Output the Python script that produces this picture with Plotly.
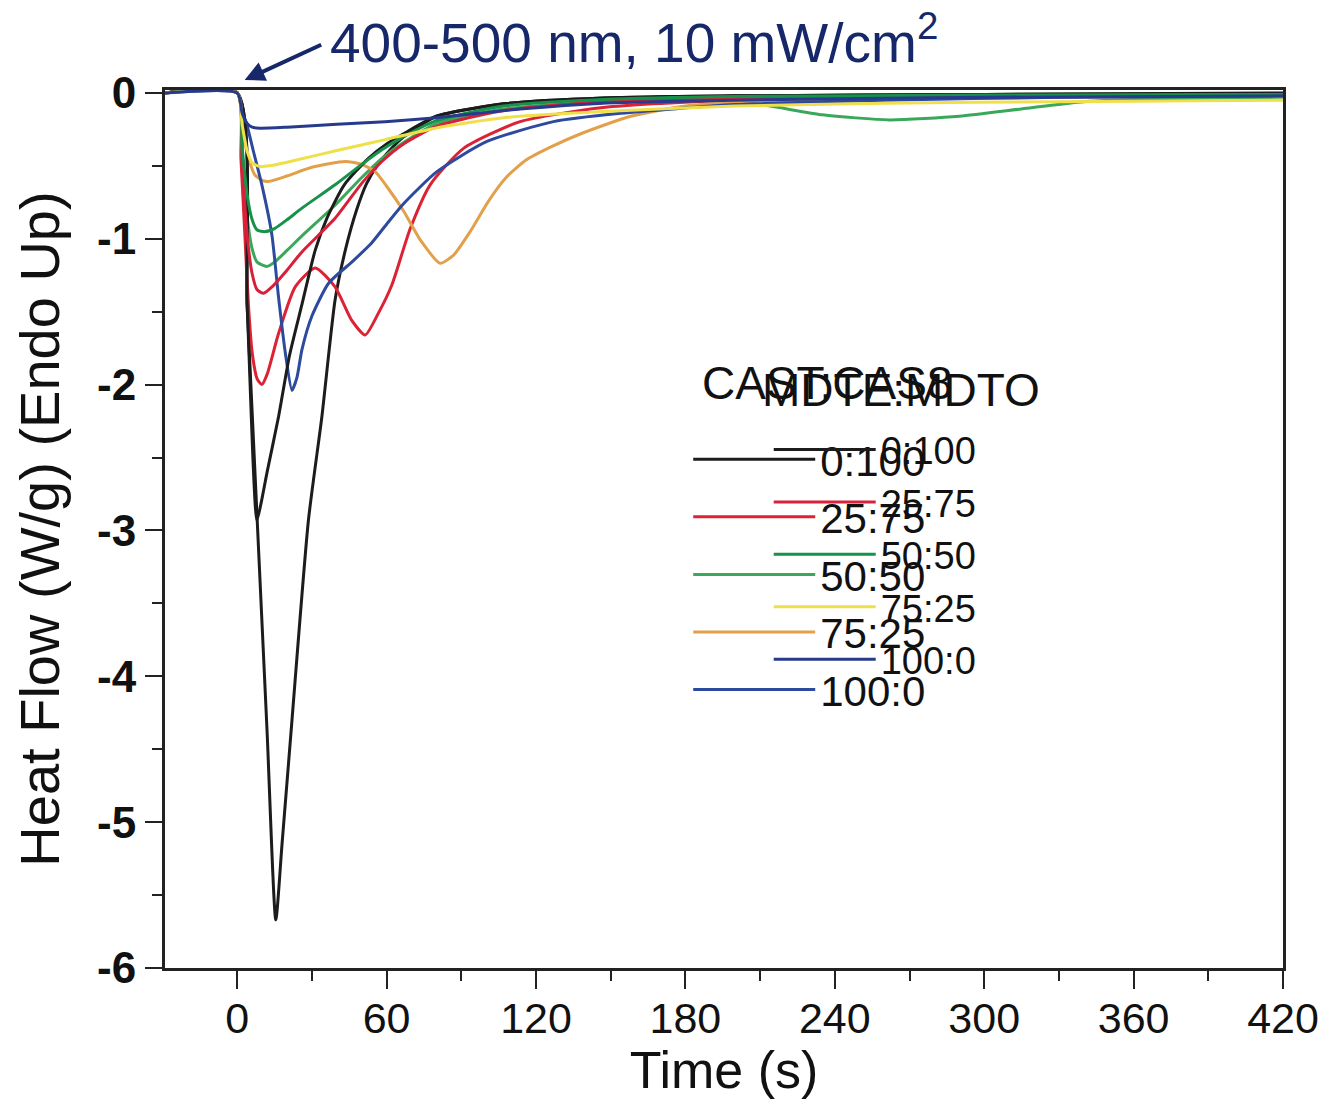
import plotly.graph_objects as go

# ---------------- data ----------------
# Chart A : CAST:CAS8 ratios
t_a_0_100 = [-29, 0, 4, 8, 12, 15.5, 18, 22, 28.6, 34, 39.3, 43.4, 48, 52, 56.6, 62, 67, 80, 107, 147, 200, 300, 420]
hf_a_0_100 = [0, 0, -1.46, -2.92, -4.38, -5.67, -5.15, -4.3, -2.93, -2.22, -1.42, -1.08, -0.8, -0.62, -0.49, -0.38, -0.3, -0.16, -0.075, -0.035, -0.02, -0.01, 0]

t_a_25_75 = [-29, 0, 1.5, 3, 4.5, 6, 8, 9.9, 12, 16.6, 23.3, 31.3, 39.3, 46, 51.4, 56.7, 62.1, 69.5, 77.5, 90.9, 113.6, 147, 200, 300, 420]
hf_a_25_75 = [0, 0, -0.45, -0.95, -1.45, -1.78, -1.96, -2.0, -1.93, -1.65, -1.33, -1.2, -1.33, -1.56, -1.66, -1.51, -1.317, -0.93, -0.63, -0.38, -0.197, -0.10, -0.05, -0.02, -0.01]

t_a_50_50 = [-29, 0, 2, 4, 6, 8, 11.9, 15, 20, 26, 39.3, 50, 58, 66.8, 80, 107, 147, 186, 210, 235, 262, 290, 315, 340, 370, 420]
hf_a_50_50 = [0, 0, -0.45, -0.85, -1.07, -1.16, -1.19, -1.16, -1.08, -0.98, -0.77, -0.58, -0.45, -0.34, -0.21, -0.11, -0.06, -0.05, -0.08, -0.15, -0.185, -0.16, -0.11, -0.06, -0.04, -0.03]

t_a_75_25 = [-29, 0, 2, 4, 7, 10, 12.6, 20, 30, 43.4, 50, 55.4, 60, 66.8, 74, 81.5, 87, 93.6, 101, 108, 116, 126, 138, 158, 180, 220, 300, 420]
hf_a_75_25 = [0, 0, -0.22, -0.42, -0.56, -0.6, -0.608, -0.57, -0.51, -0.47, -0.49, -0.54, -0.64, -0.81, -1.02, -1.168, -1.11, -0.95, -0.74, -0.58, -0.46, -0.37, -0.28, -0.16, -0.09, -0.05, -0.03, -0.02]

t_a_100_0 = [-29, 0, 2, 3.9, 6.5, 9.9, 13.9, 16.6, 19.3, 22, 24, 26, 30, 36.7, 46, 53.4, 60, 66.8, 80.2, 100.3, 127, 154, 200, 260, 330, 420]
hf_a_100_0 = [0, 0, -0.12, -0.22, -0.4, -0.63, -0.97, -1.4, -1.78, -2.04, -1.95, -1.76, -1.53, -1.305, -1.16, -1.04, -0.9, -0.76, -0.54, -0.333, -0.197, -0.14, -0.08, -0.05, -0.03, -0.02]

# Chart B : MDTE:MDTO ratios
t_b_0_100 = [-29, 0, 4, 7.9, 9.5, 12, 16.6, 21, 26, 31.3, 36, 43, 52.6, 60, 66.8, 80, 107, 147, 200, 300, 420]
hf_b_0_100 = [0, 0, -1.46, -2.93, -2.82, -2.6, -2.22, -1.8, -1.45, -1.08, -0.86, -0.63, -0.45, -0.35, -0.28, -0.16, -0.075, -0.035, -0.02, -0.01, -0.005]

t_b_25_75 = [-29, 0, 2, 4, 6, 8, 10.6, 14, 19.3, 26, 39.3, 50, 58.1, 66.8, 80, 107, 147, 200, 300, 420]
hf_b_25_75 = [0, 0, -0.5, -0.98, -1.24, -1.35, -1.374, -1.33, -1.23, -1.09, -0.86, -0.62, -0.47, -0.35, -0.23, -0.12, -0.06, -0.035, -0.02, -0.01]

t_b_50_50 = [-29, 0, 2, 4, 6, 8, 11.2, 15, 20, 26, 39.3, 50, 58.1, 66.8, 80, 107, 147, 200, 300, 420]
hf_b_50_50 = [0, 0, -0.38, -0.7, -0.87, -0.94, -0.951, -0.93, -0.87, -0.79, -0.63, -0.49, -0.39, -0.3, -0.19, -0.09, -0.045, -0.025, -0.015, -0.01]

t_b_75_25 = [-29, 0, 2, 4, 6, 9.2, 13, 20, 30, 40, 59.4, 80, 107, 147, 200, 260, 330, 420]
hf_b_75_25 = [0, 0, -0.22, -0.4, -0.48, -0.505, -0.5, -0.475, -0.435, -0.395, -0.32, -0.24, -0.17, -0.128, -0.09, -0.07, -0.06, -0.05]

t_b_100_0 = [-29, 0, 2, 4, 6, 9.2, 20, 40, 59.4, 80, 113.6, 147, 200, 300, 420]
hf_b_100_0 = [0, 0, -0.14, -0.21, -0.235, -0.242, -0.235, -0.215, -0.197, -0.17, -0.11, -0.07, -0.05, -0.03, -0.02]

ratio_labels = ["0:100", "25:75", "50:50", "75:25", "100:0"]
legend_a_title = "CAST:CAS8"
legend_b_title = "MDTE:MDTO"

x_tick_vals = [0, 60, 120, 180, 240, 300, 360, 420]
x_tick_text = ["0", "60", "120", "180", "240", "300", "360", "420"]
x_minor_vals = [30, 90, 150, 210, 270, 330, 390]
y_tick_vals = [0, -1, -2, -3, -4, -5, -6]
y_tick_text = ["0", "-1", "-2", "-3", "-4", "-5", "-6"]
y_minor_vals = [-0.5, -1.5, -2.5, -3.5, -4.5, -5.5]

# ---------------- styling ----------------
colors_a = ["#1c1c1c", "#dc2335", "#3aa85a", "#e3a04a", "#2c4a9e"]
colors_b = ["#1c1c1c", "#d8203a", "#16924a", "#efe04a", "#283a8c"]

series_a = [(t_a_0_100, hf_a_0_100), (t_a_25_75, hf_a_25_75), (t_a_50_50, hf_a_50_50),
            (t_a_75_25, hf_a_75_25), (t_a_100_0, hf_a_100_0)]
series_b = [(t_b_0_100, hf_b_0_100), (t_b_25_75, hf_b_25_75), (t_b_50_50, hf_b_50_50),
            (t_b_75_25, hf_b_75_25), (t_b_100_0, hf_b_100_0)]

fig = go.Figure()
for (t, hf), lab, col in zip(series_a, ratio_labels, colors_a):
    fig.add_trace(go.Scatter(x=t, y=hf, mode="lines", name=lab, legend="legend",
                             line=dict(color=col, width=3, shape="spline", smoothing=0.6)))
for (t, hf), lab, col in zip(series_b, ratio_labels, colors_b):
    fig.add_trace(go.Scatter(x=t, y=hf, mode="lines", name=lab, legend="legend2",
                             line=dict(color=col, width=3, shape="spline", smoothing=0.6)))

FONT = "Liberation Sans, Arial, sans-serif"

fig.update_layout(
    width=1321, height=1091,
    margin=dict(l=157, r=46, t=82, b=131, autoexpand=False),
    paper_bgcolor="white", plot_bgcolor="white",
    font=dict(family=FONT, color="#111111"),
    xaxis=dict(range=[-29, 420], tickmode="array", tickvals=x_tick_vals, ticktext=x_tick_text,
               ticks="outside", ticklen=18, tickwidth=2, tickcolor="#222222",
               minor=dict(tickmode="array", tickvals=x_minor_vals, ticks="outside", ticklen=10,
                          tickwidth=2, tickcolor="#222222"),
               showline=True, linewidth=3, linecolor="#222222", mirror=True,
               showgrid=False, zeroline=False, ticklabelstandoff=-8,
               tickfont=dict(family=FONT, size=43, color="#111111"),
               title=dict(text="Time (s)", font=dict(family=FONT, size=52, color="#111111"), standoff=8)),
    yaxis=dict(range=[-6, 0.02], tickmode="array", tickvals=y_tick_vals, ticktext=y_tick_text,
               ticks="outside", ticklen=17, tickwidth=2, tickcolor="#222222",
               minor=dict(tickmode="array", tickvals=y_minor_vals, ticks="outside", ticklen=10,
                          tickwidth=2, tickcolor="#222222"),
               showline=True, linewidth=3, linecolor="#222222", mirror=True,
               showgrid=False, zeroline=False,
               tickfont=dict(family=FONT, size=44, color="#111111", weight="bold"),
               title=dict(text="Heat Flow (W/g) (Endo Up)", font=dict(family=FONT, size=56, color="#111111"), standoff=20)),
    legend=dict(font=dict(size=42, color="#111111"),
                x=0.468, y=0.618, xanchor="left", yanchor="top", bgcolor="rgba(0,0,0,0)",
                itemwidth=122, tracegroupgap=0),
    legend2=dict(font=dict(size=38, color="#111111"),
                 x=0.540, y=0.626, xanchor="left", yanchor="top", bgcolor="rgba(0,0,0,0)",
                 itemwidth=102, tracegroupgap=0),
    showlegend=True,
)

# legend headings
fig.add_annotation(xref="paper", yref="paper", x=(700 - 165) / 1118, y=1 - (383 - 90) / 878,
                   xanchor="left", yanchor="middle", showarrow=False, text=legend_a_title,
                   font=dict(family=FONT, size=46, color="#111111"))
fig.add_annotation(xref="paper", yref="paper", x=(760 - 165) / 1118, y=1 - (390 - 90) / 878,
                   xanchor="left", yanchor="middle", showarrow=False, text=legend_b_title,
                   font=dict(family=FONT, size=46, color="#111111"))

# light-source annotation with arrow pointing at irradiation start
fig.add_annotation(xref="paper", yref="paper", x=(328 - 165) / 1118, y=1 + (90 - 39) / 878,
                   xanchor="left", yanchor="middle", showarrow=False,
                   text="400-500 nm, 10 mW/cm<sup>2</sup>",
                   font=dict(family="Liberation Sans Narrow, Liberation Sans, sans-serif", size=55, color="#16286a"))
fig.add_annotation(xref="x", yref="paper", x=3, y=1 + (90 - 80) / 878,
                   ax=78, ay=-36, axref="pixel", ayref="pixel", text="", showarrow=True,
                   arrowhead=2, arrowsize=1, arrowwidth=4, arrowcolor="#16286a")

fig.write_html("out.html")
